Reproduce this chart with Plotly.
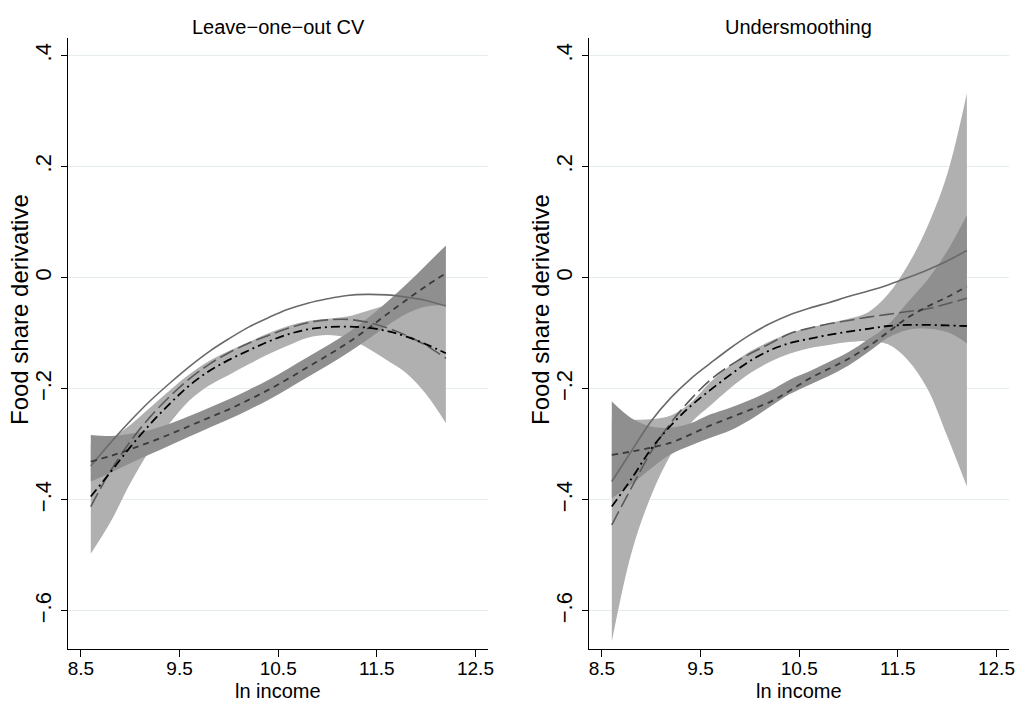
import plotly.graph_objects as go

# ---------------- data ----------------
x_grid = [8.6, 8.8, 9.0, 9.2, 9.4, 9.6, 9.8, 10.0, 10.2, 10.4, 10.6, 10.8,
          11.0, 11.2, 11.4, 11.6, 11.8, 12.0, 12.2]

# Left panel: Leave-one-out CV
loo_solid = [-0.339, -0.297, -0.258, -0.222, -0.190, -0.160, -0.133, -0.110, -0.089, -0.072,
             -0.057, -0.046, -0.038, -0.032, -0.030, -0.031, -0.035, -0.041, -0.051]
loo_longdash = [-0.412, -0.348, -0.295, -0.251, -0.214, -0.182, -0.156, -0.135, -0.118, -0.104,
                -0.091, -0.081, -0.076, -0.075, -0.080, -0.090, -0.104, -0.122, -0.145]
loo_dashdot = [-0.394, -0.350, -0.305, -0.264, -0.227, -0.194, -0.168, -0.148, -0.131, -0.115,
               -0.102, -0.093, -0.089, -0.088, -0.090, -0.096, -0.106, -0.120, -0.136]
loo_dash = [-0.331, -0.321, -0.309, -0.296, -0.282, -0.267, -0.252, -0.237, -0.220, -0.202,
            -0.182, -0.161, -0.140, -0.118, -0.093, -0.066, -0.040, -0.015, 0.008]
loo_light_hi = [-0.300, -0.290, -0.265, -0.234, -0.203, -0.174, -0.150, -0.132, -0.116, -0.100,
                -0.087, -0.078, -0.074, -0.070, -0.060, -0.049, -0.042, -0.036, -0.030]
loo_light_lo = [-0.497, -0.440, -0.370, -0.310, -0.262, -0.221, -0.194, -0.175, -0.156, -0.138,
                -0.122, -0.108, -0.103, -0.108, -0.126, -0.148, -0.172, -0.210, -0.262]
loo_dark_hi = [-0.283, -0.285, -0.281, -0.274, -0.263, -0.249, -0.234, -0.219, -0.202, -0.184,
               -0.164, -0.143, -0.122, -0.100, -0.074, -0.044, -0.012, 0.023, 0.058]
loo_dark_lo = [-0.367, -0.351, -0.334, -0.318, -0.302, -0.286, -0.270, -0.255, -0.238, -0.220,
               -0.200, -0.179, -0.158, -0.136, -0.112, -0.087, -0.065, -0.052, -0.049]

# Right panel: Undersmoothing
us_solid = [-0.367, -0.312, -0.258, -0.216, -0.182, -0.154, -0.127, -0.103, -0.083, -0.067,
            -0.055, -0.045, -0.034, -0.024, -0.013, 0.000, 0.014, 0.030, 0.049]
us_longdash = [-0.445, -0.378, -0.313, -0.261, -0.219, -0.184, -0.158, -0.137, -0.119, -0.101,
               -0.091, -0.083, -0.077, -0.071, -0.066, -0.061, -0.056, -0.047, -0.037]
us_dashdot = [-0.412, -0.362, -0.308, -0.266, -0.231, -0.202, -0.175, -0.150, -0.131, -0.118,
              -0.110, -0.103, -0.097, -0.092, -0.087, -0.085, -0.085, -0.086, -0.087]
us_dash = [-0.319, -0.313, -0.306, -0.297, -0.282, -0.266, -0.252, -0.238, -0.224, -0.204,
           -0.182, -0.164, -0.146, -0.124, -0.098, -0.072, -0.052, -0.035, -0.016]
us_light_hi = [-0.258, -0.256, -0.255, -0.248, -0.225, -0.188, -0.158, -0.133, -0.115, -0.100,
               -0.090, -0.082, -0.074, -0.062, -0.030, 0.022, 0.092, 0.186, 0.332]
us_light_lo = [-0.655, -0.495, -0.392, -0.318, -0.262, -0.230, -0.199, -0.172, -0.152, -0.137,
               -0.127, -0.121, -0.116, -0.114, -0.120, -0.148, -0.200, -0.285, -0.376]
us_dark_hi = [-0.223, -0.253, -0.268, -0.270, -0.262, -0.246, -0.234, -0.220, -0.204, -0.184,
              -0.169, -0.152, -0.134, -0.111, -0.085, -0.044, -0.004, 0.048, 0.113]
us_dark_lo = [-0.397, -0.372, -0.343, -0.318, -0.302, -0.288, -0.275, -0.256, -0.233, -0.210,
              -0.193, -0.177, -0.158, -0.134, -0.108, -0.094, -0.092, -0.098, -0.118]

panel_titles = ["Leave\u2212one\u2212out CV", "Undersmoothing"]
x_ticks = [8.5, 9.5, 10.5, 11.5, 12.5]
x_ticklabels = ["8.5", "9.5", "10.5", "11.5", "12.5"]
y_ticks = [0.4, 0.2, 0.0, -0.2, -0.4, -0.6]
y_ticklabels = [".4", ".2", "0", "\u2212.2", "\u2212.4", "\u2212.6"]
x_title = "ln income"
y_title = "Food share derivative"

# ---------------- styling ----------------
FONT = "Liberation Sans, Arial, sans-serif"
LIGHT = "#b0b0b0"
DARK = "#8f8f8f"
W, H = 1019, 702

fig = go.Figure()

panels = [
    dict(solid=loo_solid, longdash=loo_longdash, dashdot=loo_dashdot, dash=loo_dash,
         lhi=loo_light_hi, llo=loo_light_lo, dhi=loo_dark_hi, dlo=loo_dark_lo),
    dict(solid=us_solid, longdash=us_longdash, dashdot=us_dashdot, dash=us_dash,
         lhi=us_light_hi, llo=us_light_lo, dhi=us_dark_hi, dlo=us_dark_lo),
]

for i, p in enumerate(panels):
    xa = "x" if i == 0 else "x2"
    ya = "y" if i == 0 else "y2"
    common = dict(x=x_grid, xaxis=xa, yaxis=ya, mode="lines", showlegend=False,
                  hoverinfo="skip")
    # light band
    fig.add_trace(go.Scatter(y=p["llo"], line=dict(width=0, shape="spline"), **common))
    fig.add_trace(go.Scatter(y=p["lhi"], line=dict(width=0, shape="spline"), fill="tonexty",
                             fillcolor=LIGHT, **common))
    # dark band
    fig.add_trace(go.Scatter(y=p["dlo"], line=dict(width=0, shape="spline"), **common))
    fig.add_trace(go.Scatter(y=p["dhi"], line=dict(width=0, shape="spline"), fill="tonexty",
                             fillcolor=DARK, **common))
    # lines
    fig.add_trace(go.Scatter(y=p["solid"], line=dict(color="#6a6a6a", width=1.6, shape="spline"),
                             **common))
    fig.add_trace(go.Scatter(y=p["longdash"], line=dict(color="#5a5a5a", width=1.6,
                                                        dash="15px,5px", shape="spline"), **common))
    fig.add_trace(go.Scatter(y=p["dash"], line=dict(color="#3a3a3a", width=1.8,
                                                    dash="6px,5px", shape="spline"), **common))
    fig.add_trace(go.Scatter(y=p["dashdot"], line=dict(color="#000000", width=1.8,
                                                       dash="9px,4px,2px,4px", shape="spline"),
                             **common))

# pixel geometry
left_dom = [68 / W, 488 / W]
right_dom = [589 / W, 1009 / W]
y_dom = [1 - 649.3 / H, 1 - 38 / H]
x_range = [8.369, 12.627]
y_range = [-0.669, 0.4315]

xaxis_style = dict(range=x_range, tickvals=x_ticks, ticktext=x_ticklabels, showgrid=False,
                   zeroline=False, showline=True, linecolor="black", linewidth=1,
                   ticks="outside", ticklen=7, tickcolor="black", tickwidth=1,
                   ticklabelstandoff=-5,
                   tickfont=dict(family=FONT, size=19, color="black"), automargin=False,
                   fixedrange=True)
yaxis_style = dict(range=y_range, tickvals=y_ticks, ticktext=y_ticklabels, showgrid=True,
                   gridcolor="#e6eded", gridwidth=1, zeroline=False, showline=True,
                   linecolor="black", linewidth=1, ticks="outside", ticklen=6,
                   tickcolor="black", tickwidth=1, tickangle=-90, ticklabelstandoff=1,
                   tickfont=dict(family=FONT, size=22, color="black"), automargin=False,
                   fixedrange=True)

fig.update_layout(
    width=W, height=H,
    margin=dict(l=0, r=0, t=0, b=0),
    paper_bgcolor="white", plot_bgcolor="white",
    xaxis=dict(domain=left_dom, anchor="y", **xaxis_style),
    yaxis=dict(domain=y_dom, anchor="x", **yaxis_style),
    xaxis2=dict(domain=right_dom, anchor="y2", **xaxis_style),
    yaxis2=dict(domain=y_dom, anchor="x2", **yaxis_style),
)

annotations = []
for dom, title, ytx in [(left_dom, panel_titles[0], 19), (right_dom, panel_titles[1], 540)]:
    cx = (dom[0] + dom[1]) / 2
    annotations.append(dict(text=title, x=cx, y=1 - 27 / H, xref="paper", yref="paper",
                            xanchor="center", yanchor="middle", showarrow=False,
                            font=dict(family=FONT, size=20, color="black")))
    annotations.append(dict(text=x_title, x=cx, y=1 - 691 / H, xref="paper", yref="paper",
                            xanchor="center", yanchor="middle", showarrow=False,
                            font=dict(family=FONT, size=20, color="black")))
    annotations.append(dict(text=y_title, x=ytx / W, y=1 - 310 / H, xref="paper", yref="paper",
                            xanchor="center", yanchor="middle", showarrow=False, textangle=-90,
                            font=dict(family=FONT, size=24, color="black")))
fig.update_layout(annotations=annotations)

fig.write_html("out.html", config={"displayModeBar": False},
               post_script="document.body.style.margin='0';document.body.style.overflow='hidden';")
